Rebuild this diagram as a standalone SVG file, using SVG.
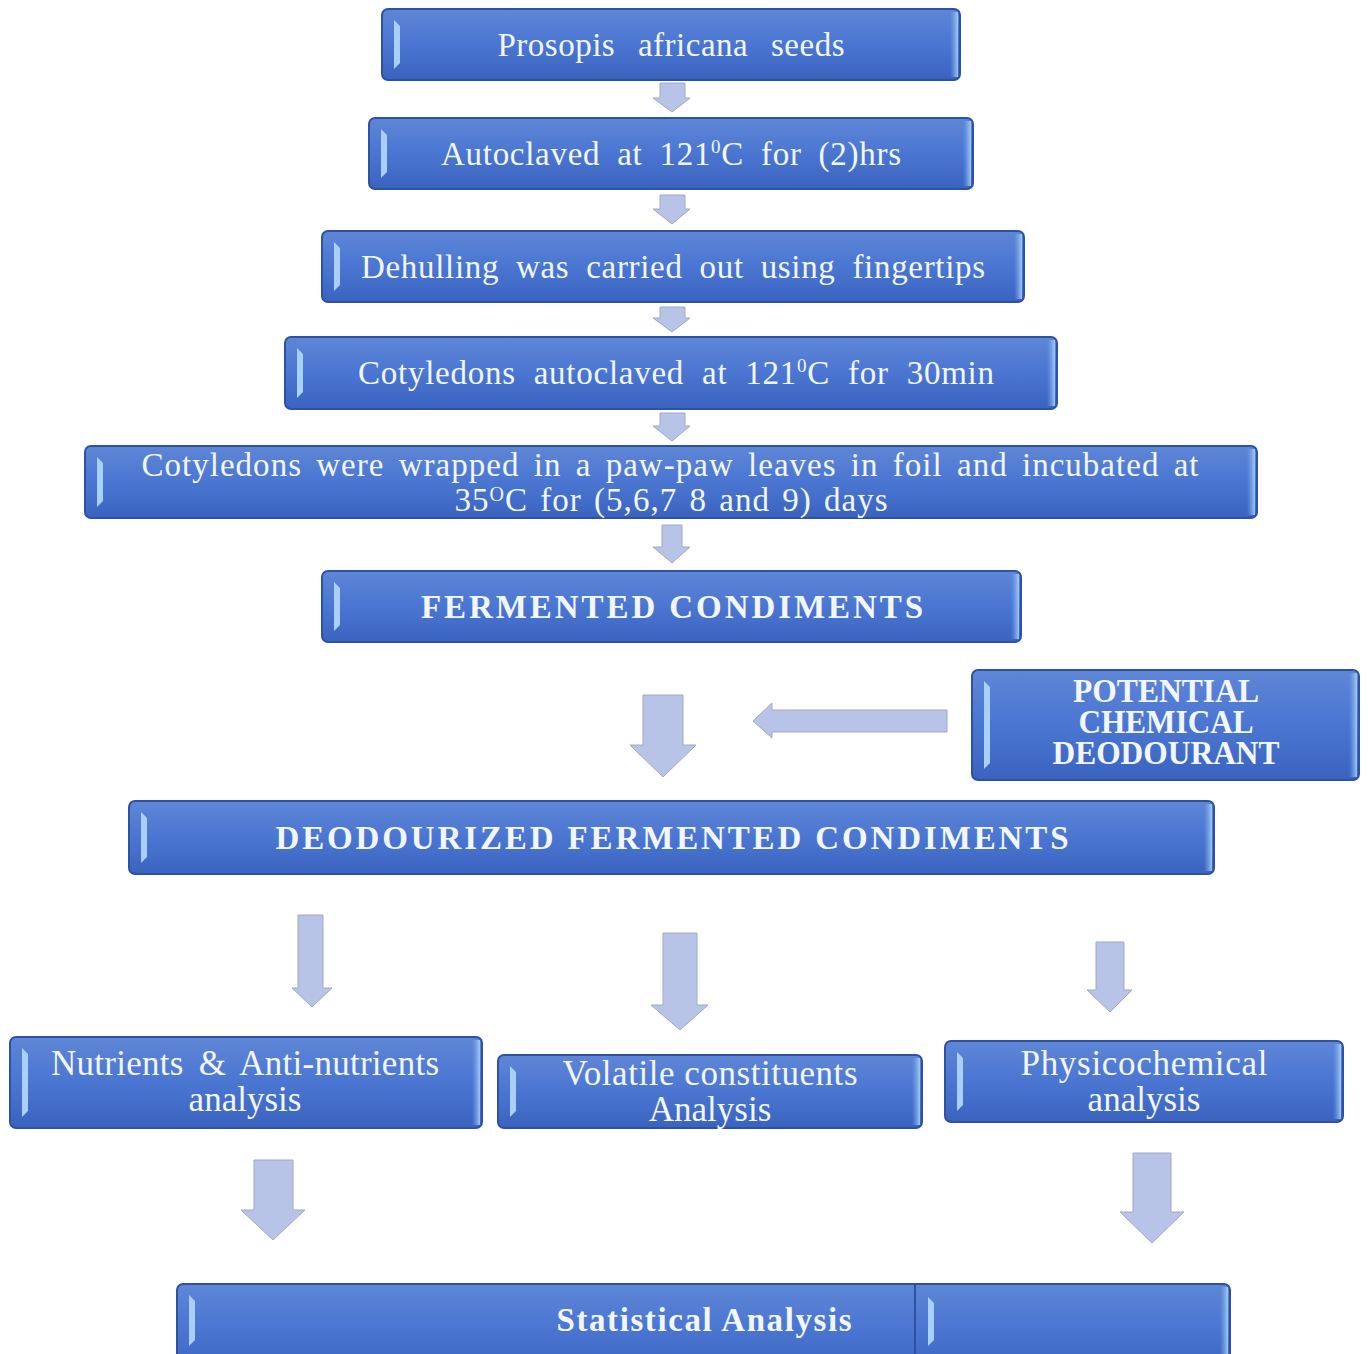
<svg xmlns="http://www.w3.org/2000/svg" width="1368" height="1354" viewBox="0 0 1368 1354">
<defs>
<linearGradient id="bg" x1="0" y1="0" x2="0" y2="1">
<stop offset="0" stop-color="#5f86d6"/>
<stop offset="0.5" stop-color="#4a76d2"/>
<stop offset="1" stop-color="#3a63bf"/>
</linearGradient>
<linearGradient id="rh" x1="0" y1="0" x2="1" y2="0">
<stop offset="0" stop-color="#7fb0ee" stop-opacity="0"/>
<stop offset="1" stop-color="#a9d2fa" stop-opacity="0.9"/>
</linearGradient>
</defs>
<style>
.box{fill:url(#bg);stroke:#2d52a3;stroke-width:2}
.hl{fill:#a8d0f8}
.rh{fill:url(#rh)}
.t{font-family:"Liberation Serif","Times New Roman",serif;fill:#f2f6ff;font-size:33px;text-anchor:middle}
.l{font-size:35px}
.b{font-weight:bold}
.arr{fill:#b7c4e7;stroke:#a0a9c4;stroke-width:1}
</style>
<rect width="1368" height="1354" fill="#ffffff"/>

<g id="connectors">
<polygon class="arr" points="660,83 685,83 685,98 690,98 672,112 653,98 660,98"/>
<polygon class="arr" points="660,195 685,195 685,209 690,209 672,224 653,209 660,209"/>
<polygon class="arr" points="660,307 685,307 685,318 690,318 672,332 653,318 660,318"/>
<polygon class="arr" points="660,413 685,413 685,426 690,426 672,441 653,426 660,426"/>
<polygon class="arr" points="662,525 682,525 682,547 690,547 672,563 653,547 662,547"/>
<polygon class="arr" points="643,695 683,695 683,745 696,745 663,777 630,745 643,745"/>
<polygon class="arr" points="947,710 947,732 772,732 772,738 753,721 772,703 772,710"/>
<polygon class="arr" points="298,915 323,915 323,988 332,988 312,1007 292,988 298,988"/>
<polygon class="arr" points="663,933 697,933 697,1005 708,1005 680,1030 651,1005 663,1005"/>
<polygon class="arr" points="1096,942 1124,942 1124,990 1132,990 1110,1012 1087,990 1096,990"/>
<polygon class="arr" points="254,1160 293,1160 293,1210 305,1210 273,1240 241,1210 254,1210"/>
<polygon class="arr" points="1133,1153 1171,1153 1171,1212 1184,1212 1152,1243 1120,1212 1133,1212"/>
</g>

<g id="n1">
<rect class="box" x="382" y="9" width="578" height="71" rx="6"/>
<polygon class="hl" points="394,20 400,26 400,63 394,69"/>
<rect class="rh" x="950" y="12" width="8" height="65"/>
<text class="t" x="671" y="56" word-spacing="14" textLength="347" lengthAdjust="spacing">Prosopis africana seeds</text>
</g>

<g id="n2">
<rect class="box" x="369" y="118" width="604" height="71" rx="6"/>
<polygon class="hl" points="381,129 387,135 387,172 381,178"/>
<rect class="rh" x="963" y="121" width="8" height="65"/>
<text class="t" x="671" y="165" word-spacing="8" textLength="460" lengthAdjust="spacing">Autoclaved at 121<tspan font-size="19" dy="-12">0</tspan><tspan dy="12">C for (2)hrs</tspan></text>
</g>

<g id="n3">
<rect class="box" x="322" y="231" width="702" height="71" rx="6"/>
<polygon class="hl" points="334,242 340,248 340,285 334,291"/>
<rect class="rh" x="1014" y="234" width="8" height="65"/>
<text class="t" x="673" y="278" word-spacing="8" textLength="624" lengthAdjust="spacing">Dehulling was carried out using fingertips</text>
</g>

<g id="n4">
<rect class="box" x="285" y="337" width="772" height="72" rx="6"/>
<polygon class="hl" points="297,348 303,354 303,392 297,398"/>
<rect class="rh" x="1047" y="340" width="8" height="66"/>
<text class="t" x="676" y="384" word-spacing="9" textLength="636" lengthAdjust="spacing">Cotyledons autoclaved at 121<tspan font-size="19" dy="-12">0</tspan><tspan dy="12">C for 30min</tspan></text>
</g>

<g id="n5">
<rect class="box" x="85" y="446" width="1172" height="72" rx="6"/>
<polygon class="hl" points="97,457 103,463 103,501 97,507"/>
<rect class="rh" x="1247" y="449" width="8" height="66"/>
<text class="t" x="670" y="476" word-spacing="5" textLength="1057" lengthAdjust="spacing">Cotyledons were wrapped in a paw-paw leaves in foil and incubated at</text>
<text class="t" x="671" y="511" word-spacing="3" textLength="433" lengthAdjust="spacing">35<tspan font-size="20" dy="-10">O</tspan><tspan dy="10">C for (5,6,7 8 and 9) days</tspan></text>
</g>

<g id="n6">
<rect class="box" x="322" y="571" width="699" height="71" rx="6"/>
<polygon class="hl" points="334,582 340,588 340,625 334,631"/>
<rect class="rh" x="1011" y="574" width="8" height="65"/>
<text class="t b" x="672" y="618" font-size="36" textLength="502" lengthAdjust="spacing">FERMENTED CONDIMENTS</text>
</g>

<g id="n7">
<rect class="box" x="972" y="670" width="387" height="110" rx="6"/>
<polygon class="hl" points="984,681 990,687 990,763 984,769"/>
<rect class="rh" x="1349" y="673" width="8" height="104"/>
<text class="t b" x="1166" y="702" font-size="26" textLength="186" lengthAdjust="spacingAndGlyphs">POTENTIAL</text>
<text class="t b" x="1166" y="733" font-size="26" textLength="175" lengthAdjust="spacingAndGlyphs">CHEMICAL</text>
<text class="t b" x="1166" y="764" font-size="26" textLength="227" lengthAdjust="spacingAndGlyphs">DEODOURANT</text>
</g>

<g id="n8">
<rect class="box" x="129" y="801" width="1085" height="73" rx="6"/>
<polygon class="hl" points="141,812 147,818 147,857 141,863"/>
<rect class="rh" x="1204" y="804" width="8" height="67"/>
<text class="t b" x="672" y="849" font-size="36" textLength="793" lengthAdjust="spacing">DEODOURIZED FERMENTED CONDIMENTS</text>
</g>

<g id="n9">
<rect class="box" x="10" y="1037" width="472" height="91" rx="6"/>
<polygon class="hl" points="22,1048 28,1054 28,1111 22,1117"/>
<rect class="rh" x="472" y="1040" width="8" height="85"/>
<text class="t l" x="245" y="1075" word-spacing="6" textLength="388" lengthAdjust="spacing">Nutrients &amp; Anti-nutrients</text>
<text class="t l" x="245" y="1111">analysis</text>
</g>

<g id="n10">
<rect class="box" x="498" y="1055" width="424" height="73" rx="6"/>
<polygon class="hl" points="510,1066 516,1072 516,1111 510,1117"/>
<rect class="rh" x="912" y="1058" width="8" height="67"/>
<text class="t l" x="710" y="1085" textLength="295" lengthAdjust="spacing">Volatile constituents</text>
<text class="t l" x="710" y="1121">Analysis</text>
</g>

<g id="n11">
<rect class="box" x="945" y="1041" width="398" height="81" rx="6"/>
<polygon class="hl" points="957,1052 963,1058 963,1105 957,1111"/>
<rect class="rh" x="1333" y="1044" width="8" height="75"/>
<text class="t l" x="1144" y="1075" textLength="247" lengthAdjust="spacing">Physicochemical</text>
<text class="t l" x="1144" y="1111">analysis</text>
</g>

<g id="n12">
<rect class="box" x="177" y="1284" width="1053" height="90" rx="6"/>
<line x1="915" y1="1285" x2="915" y2="1354" stroke="#2d52a3" stroke-width="2"/>
<polygon class="hl" points="189,1295 195,1301 195,1340 189,1346"/>
<polygon class="hl" points="928,1297 934,1303 934,1340 928,1346"/>
<rect class="rh" x="1220" y="1287" width="8" height="67"/>
<text class="t b" x="704" y="1331" font-size="36" textLength="295" lengthAdjust="spacing">Statistical Analysis</text>
</g>
</svg>
